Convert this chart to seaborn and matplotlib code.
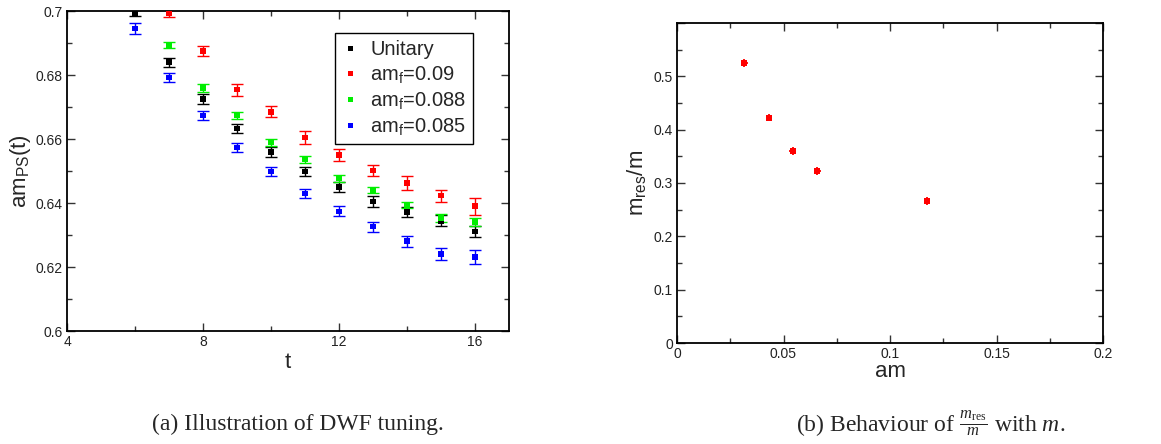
import numpy as np
import pandas as pd
import matplotlib
matplotlib.use("Agg")
import matplotlib.pyplot as plt
from matplotlib.ticker import MultipleLocator, FuncFormatter
import seaborn as sns

# ---------------- data ----------------
series_names = ["Unitary", "am$_{\\mathsf{f}}$=0.09", "am$_{\\mathsf{f}}$=0.088", "am$_{\\mathsf{f}}$=0.085"]
series_colors = ["#000000", "#ff0000", "#00ee00", "#0000ff"]

t_unitary = [6, 7, 8, 9, 10, 11, 12, 13, 14, 15, 16]
v_unitary = [0.6994, 0.6840, 0.6725, 0.6633, 0.6560, 0.6498, 0.6450, 0.6405, 0.6372, 0.6344, 0.6311]
e_unitary = [0.0010, 0.0014, 0.0015, 0.0014, 0.0015, 0.0015, 0.0015, 0.0017, 0.0016, 0.0017, 0.0018]

t_090 = [7, 8, 9, 10, 11, 12, 13, 14, 15, 16]
v_090 = [0.6994, 0.6875, 0.6754, 0.6685, 0.6605, 0.6550, 0.6501, 0.6463, 0.6423, 0.6390]
e_090 = [0.0014, 0.0017, 0.0019, 0.0017, 0.0020, 0.0020, 0.0017, 0.0021, 0.0019, 0.0027]

t_088 = [7, 8, 9, 10, 11, 12, 13, 14, 15, 16]
v_088 = [0.6893, 0.6760, 0.6673, 0.6590, 0.6536, 0.6476, 0.6441, 0.6393, 0.6353, 0.6340]
e_088 = [0.0010, 0.0012, 0.0011, 0.0011, 0.0010, 0.0010, 0.0010, 0.0010, 0.0012, 0.0013]

t_085 = [6, 7, 8, 9, 10, 11, 12, 13, 14, 15, 16]
v_085 = [0.6945, 0.6792, 0.6673, 0.6573, 0.6498, 0.6430, 0.6374, 0.6326, 0.6281, 0.6240, 0.6231]
e_085 = [0.0016, 0.0015, 0.0015, 0.0015, 0.0014, 0.0015, 0.0016, 0.0016, 0.0017, 0.0019, 0.0023]

am_mass = [0.0316, 0.0432, 0.0543, 0.0659, 0.1174]
mres_ratio = [0.525, 0.4224, 0.3598, 0.3229, 0.266]
mres_yerr = [0.008, 0.007, 0.007, 0.007, 0.007]
mres_xerr = [0.0016, 0.0016, 0.0016, 0.0016, 0.0016]

caption_a = "(a) Illustration of DWF tuning."
caption_b = r"(b) Behaviour of $\frac{m_{\mathrm{res}}}{m}$ with $m$."

# ---------------- style ----------------
sns.set_theme(style="ticks")
plt.rcParams["font.family"] = ["Liberation Sans", "DejaVu Sans"]
plt.rcParams["mathtext.fontset"] = "custom"
plt.rcParams["mathtext.rm"] = "Liberation Serif"
plt.rcParams["mathtext.it"] = "Liberation Serif:italic"
plt.rcParams["mathtext.sf"] = "Liberation Sans"
plt.rcParams["axes.linewidth"] = 1.3
plt.rcParams["axes.edgecolor"] = "black"

fig = plt.figure(figsize=(11.61, 4.44), dpi=100)
W, H = 1161, 444
axL = fig.add_axes([67 / W, 1 - 331 / H, (509 - 67) / W, (331 - 11) / H])
axR = fig.add_axes([677 / W, 1 - 343 / H, (1103 - 677) / W, (343 - 23) / H])

# ---------------- left panel ----------------
frames = []
for name, t, v, e in zip(series_names,
                         [t_unitary, t_090, t_088, t_085],
                         [v_unitary, v_090, v_088, v_085],
                         [e_unitary, e_090, e_088, e_085]):
    frames.append(pd.DataFrame({"t": t, "amps": v, "err": e, "series": name}))
df = pd.concat(frames, ignore_index=True)
palette = dict(zip(series_names, series_colors))

for name in series_names:
    sub = df[df["series"] == name]
    axL.errorbar(sub["t"], sub["amps"], yerr=sub["err"], fmt="none",
                 ecolor=palette[name], elinewidth=1.0, capsize=4.5, capthick=1.0,
                 zorder=2)
sns.scatterplot(data=df, x="t", y="amps", hue="series", hue_order=series_names,
                palette=palette, marker="s", s=16, linewidth=0, ax=axL, zorder=3)

axL.set_xlim(4, 17)
axL.set_ylim(0.6, 0.7)
axL.xaxis.set_major_locator(MultipleLocator(4))
axL.xaxis.set_minor_locator(MultipleLocator(2))
axL.yaxis.set_major_locator(MultipleLocator(0.02))
axL.yaxis.set_minor_locator(MultipleLocator(0.01))
fmt_g = FuncFormatter(lambda v, p: ("%g" % round(v, 6)))
axL.xaxis.set_major_formatter(fmt_g)
axL.yaxis.set_major_formatter(fmt_g)
axL.set_xlabel("t", fontsize=16, labelpad=2)
axL.set_ylabel(r"am$_{\mathsf{PS}}$(t)", fontsize=16, labelpad=2)

handles, labels = axL.get_legend_handles_labels()
leg = axL.legend(handles, labels, loc="upper right", bbox_to_anchor=((473 - 67) / 442, (331 - 33) / 320),
                 borderaxespad=0, fontsize=14.5, frameon=True, fancybox=False,
                 edgecolor="black", framealpha=1, handlelength=0.8, handletextpad=0.6,
                 labelspacing=0.25, borderpad=0.35, markerscale=0.9)
leg.get_frame().set_linewidth(1.0)

# ---------------- right panel ----------------
dfr = pd.DataFrame({"am": am_mass, "ratio": mres_ratio, "yerr": mres_yerr, "xerr": mres_xerr})
axR.errorbar(dfr["am"], dfr["ratio"], yerr=dfr["yerr"], xerr=dfr["xerr"], fmt="none",
             ecolor="#ff0000", elinewidth=1.3, capsize=0, zorder=2)
sns.scatterplot(data=dfr, x="am", y="ratio", color="#ff0000", marker="s", s=20,
                linewidth=0, ax=axR, zorder=3)
axR.set_xlim(0, 0.2)
axR.set_ylim(0, 0.6)
axR.xaxis.set_major_locator(MultipleLocator(0.05))
axR.xaxis.set_minor_locator(MultipleLocator(0.025))
axR.yaxis.set_major_locator(MultipleLocator(0.1))
axR.yaxis.set_minor_locator(MultipleLocator(0.05))
axR.xaxis.set_major_formatter(fmt_g)
axR.yaxis.set_major_formatter(FuncFormatter(lambda v, p: "" if v > 0.55 else ("%g" % round(v, 6))))
axR.set_xlabel("am", fontsize=16, labelpad=0)
axR.set_ylabel(r"m$_{\mathsf{res}}$/m", fontsize=16, labelpad=4)

for ax in (axL, axR):
    ax.tick_params(which="both", direction="in", top=True, right=True,
                   colors="#333333", labelcolor="#222222", labelsize=10, pad=3)
    ax.tick_params(which="major", length=6, width=1.0)
    ax.tick_params(which="minor", length=3.5, width=1.0)
    for s in ax.spines.values():
        s.set_visible(True)
        s.set_color("black")
        s.set_linewidth(1.3)

# ---------------- captions ----------------
fig.text(298 / W, 1 - 424 / H, caption_a, ha="center", va="center",
         fontsize=17, family=["Liberation Serif", "DejaVu Serif"])
fig.text(931 / W, 1 - 424 / H, caption_b, ha="center", va="center",
         fontsize=17, family=["Liberation Serif", "DejaVu Serif"])

fig.savefig("out.png", dpi=100)
